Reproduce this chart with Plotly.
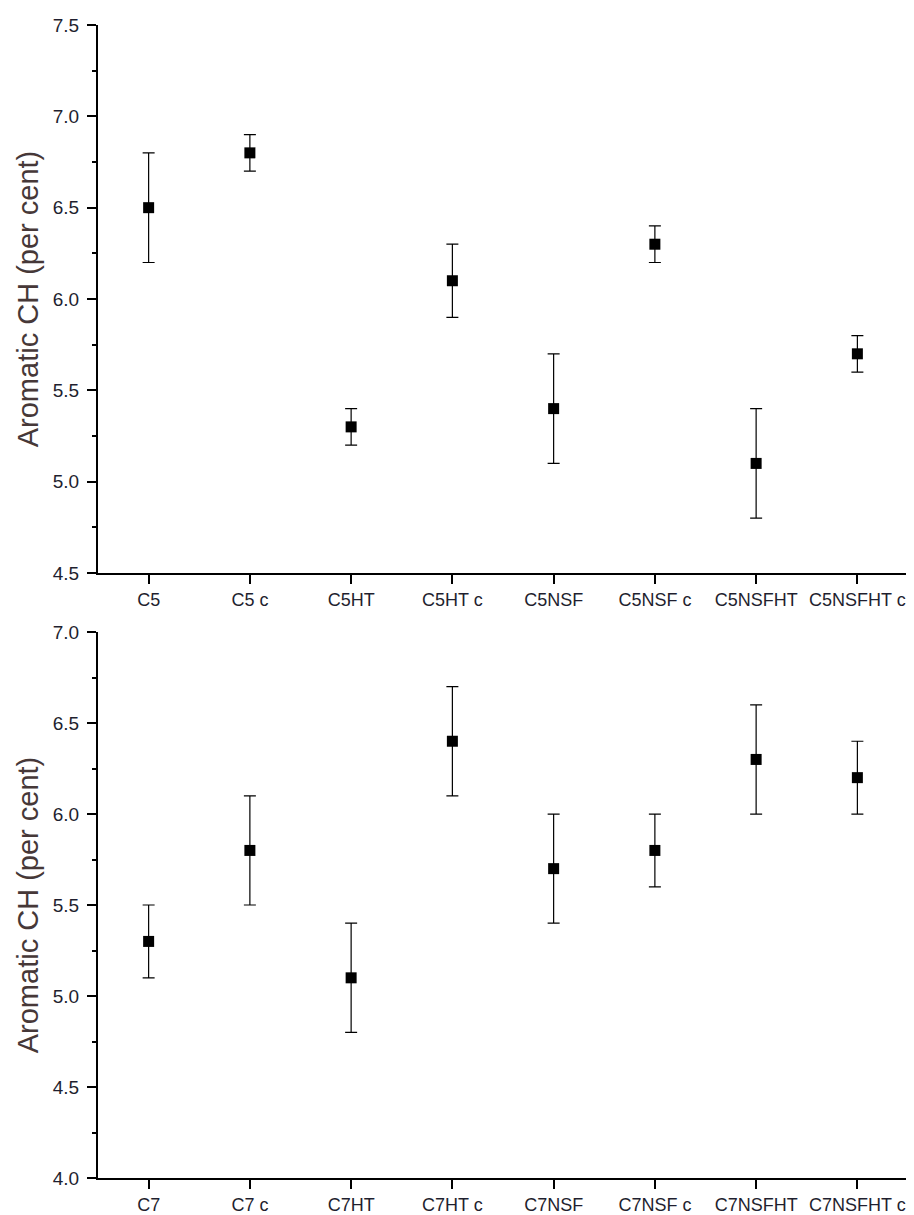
import plotly.graph_objects as go
from plotly.subplots import make_subplots

cats_top = ["C5", "C5 c", "C5HT", "C5HT c", "C5NSF", "C5NSF c", "C5NSFHT", "C5NSFHT c"]
vals_top = [6.5, 6.8, 5.3, 6.1, 5.4, 6.3, 5.1, 5.7]
err_top = [0.3, 0.1, 0.1, 0.2, 0.3, 0.1, 0.3, 0.1]

cats_bot = ["C7", "C7 c", "C7HT", "C7HT c", "C7NSF", "C7NSF c", "C7NSFHT", "C7NSFHT c"]
vals_bot = [5.3, 5.8, 5.1, 6.4, 5.7, 5.8, 6.3, 6.2]
err_bot = [0.2, 0.3, 0.3, 0.3, 0.3, 0.2, 0.3, 0.2]

fig = make_subplots(rows=2, cols=1, vertical_spacing=0.05)

for r, (c, v, e) in enumerate([(cats_top, vals_top, err_top), (cats_bot, vals_bot, err_bot)], start=1):
    fig.add_trace(go.Scatter(
        x=c, y=v, mode="markers",
        marker=dict(symbol="square", size=11, color="black"),
        error_y=dict(type="data", array=e, visible=True, color="black", thickness=1.2, width=6),
        showlegend=False), row=r, col=1)

tickfont = dict(family="Liberation Sans, Arial, sans-serif", size=18, color="#1f1f2f")
ytickfont = dict(family="Liberation Sans, Arial, sans-serif", size=19, color="#1f1f2f")
titlefont = dict(family="Liberation Sans, Arial, sans-serif", size=29, color="#463838")

for r, rng in [(1, [4.5, 7.5]), (2, [4.0, 7.0])]:
    fig.update_xaxes(type="category", range=[-0.5, 7.5], showline=True, linecolor="black", linewidth=2,
                     ticks="outside", ticklen=9, tickwidth=2, tickcolor="black", showgrid=False,
                     zeroline=False, tickfont=tickfont, automargin=False, row=r, col=1)
    fig.update_yaxes(range=rng, dtick=0.5, tickformat=".1f", showline=True, linecolor="black", linewidth=2,
                     ticks="outside", ticklen=9, tickwidth=2, tickcolor="black", showgrid=False,
                     zeroline=False, tickfont=ytickfont, automargin=False, ticklabelstandoff=4,
                     minor=dict(ticks="outside", ticklen=4, tickwidth=2, tickcolor="black", dtick=0.25),
                     title=dict(text="Aromatic CH (per cent)", font=titlefont, standoff=6),
                     row=r, col=1)

fig.update_layout(
    width=906, height=1207,
    margin=dict(l=90, r=6, t=17, b=37),
    plot_bgcolor="white", paper_bgcolor="white",
)
fig.update_layout(
    yaxis=dict(domain=[0.5247, 1.0]),
    yaxis2=dict(domain=[0.0, 0.4735]),
)

fig.write_html("out.html")
